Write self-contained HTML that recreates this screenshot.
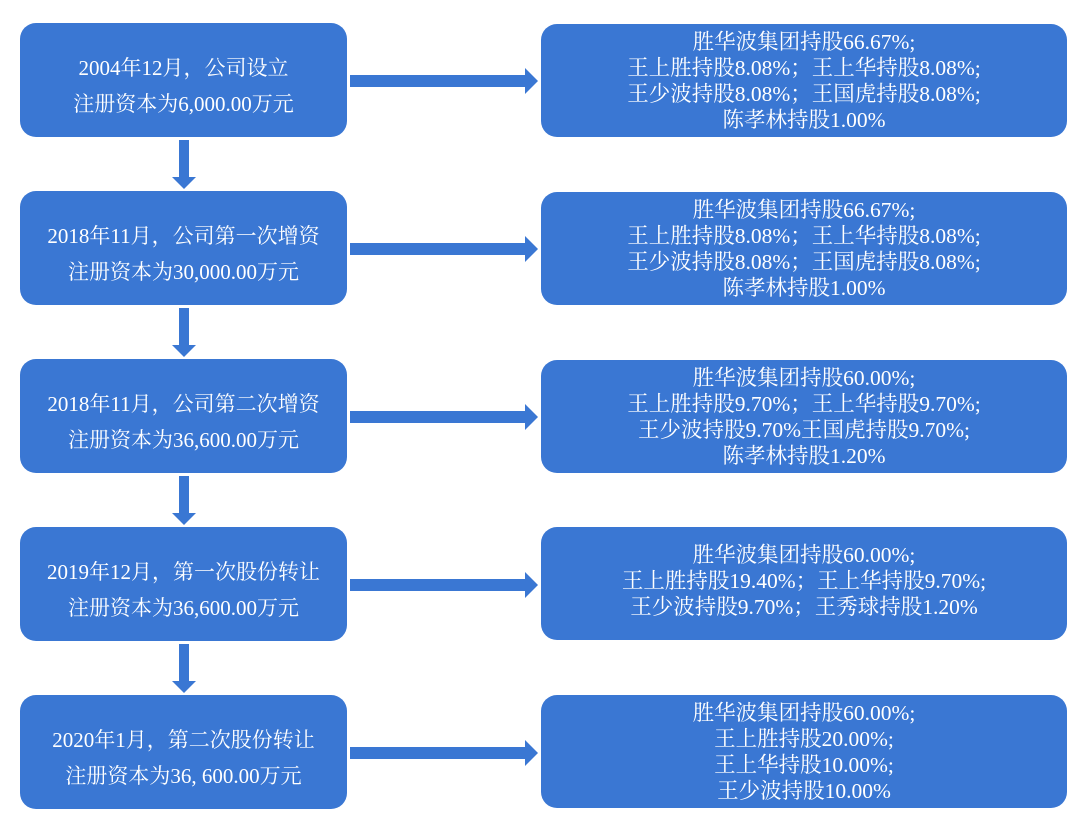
<!DOCTYPE html>
<html><head><meta charset="utf-8"><style>
body{margin:0;width:1080px;height:830px;background:#fff;position:relative;overflow:hidden;font-family:"Liberation Serif","Noto Serif CJK SC",serif;color:#fff}
.b{position:absolute;background:#3a77d3;border-radius:16px;display:flex;flex-direction:column;justify-content:center;align-items:center;text-align:center;white-space:nowrap;box-sizing:border-box}
.l{left:20px;width:327px;height:114px;font-size:21px;line-height:36px;padding-top:12px}
.r{left:541px;width:526px;height:113px;font-size:21.5px;line-height:26px}
</style></head><body>
<div class="b l" style="top:23px">2004年12月，公司设立<br>注册资本为6,000.00万元</div>
<div class="b l" style="top:191px">2018年11月，公司第一次增资<br>注册资本为30,000.00万元</div>
<div class="b l" style="top:359px">2018年11月，公司第二次增资<br>注册资本为36,600.00万元</div>
<div class="b l" style="top:527px">2019年12月，第一次股份转让<br>注册资本为36,600.00万元</div>
<div class="b l" style="top:695px">2020年1月，第二次股份转让<br>注册资本为36, 600.00万元</div>

<div class="b r" style="top:24px">胜华波集团持股66.67%;<br>王上胜持股8.08%；王上华持股8.08%;<br>王少波持股8.08%；王国虎持股8.08%;<br>陈孝林持股1.00%</div>
<div class="b r" style="top:192px">胜华波集团持股66.67%;<br>王上胜持股8.08%；王上华持股8.08%;<br>王少波持股8.08%；王国虎持股8.08%;<br>陈孝林持股1.00%</div>
<div class="b r" style="top:360px">胜华波集团持股60.00%;<br>王上胜持股9.70%；王上华持股9.70%;<br>王少波持股9.70%王国虎持股9.70%;<br>陈孝林持股1.20%</div>
<div class="b r" style="top:527px;padding-bottom:6px">胜华波集团持股60.00%;<br>王上胜持股19.40%；王上华持股9.70%;<br>王少波持股9.70%；王秀球持股1.20%</div>
<div class="b r" style="top:695px">胜华波集团持股60.00%;<br>王上胜持股20.00%;<br>王上华持股10.00%;<br>王少波持股10.00%</div>

<svg width="1080" height="830" style="position:absolute;left:0;top:0">
<g fill="#3a77d3">
<path id="h" d="M350 75 H525 V68 L538 81 L525 94 V87 H350 Z"/>
<use href="#h" y="168"/><use href="#h" y="336"/><use href="#h" y="504"/><use href="#h" y="672"/>
<path id="v" d="M179 140 H189 V177 H196 L184 189 L172 177 H179 Z"/>
<use href="#v" y="168"/><use href="#v" y="336"/><use href="#v" y="504"/>
</g></svg>
</body></html>
